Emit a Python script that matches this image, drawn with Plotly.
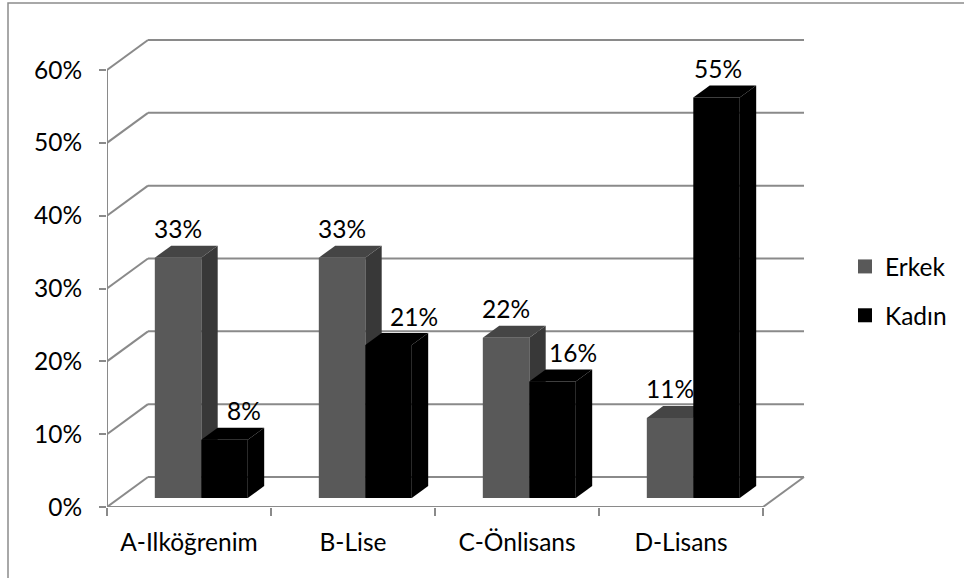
import plotly.graph_objects as go

# ---- data -------------------------------------------------------------
categories = ["A-Ilköğrenim", "B-Lise", "C-Önlisans", "D-Lisans"]
erkek = [33, 33, 22, 11]
kadin = [8, 21, 16, 55]
y_ticks = [0, 10, 20, 30, 40, 50, 60]
y_tick_labels = [f"{t}%" for t in y_ticks]
series_names = ["Erkek", "Kadın"]

# ---- styling / geometry ----------------------------------------------
W, H = 964, 578
FONT = "Lato"
FSIZE = 24.5
GRID = "#8a8a8a"
ERKEK_FRONT, ERKEK_TOP, ERKEK_SIDE = "#595959", "#454545", "#383838"
KADIN_FRONT, KADIN_TOP, KADIN_SIDE = "#000000", "#000000", "#000000"

AX_LEFT, AX_BOTTOM = 107, 507          # front plane origin (px)
DOM_RIGHT, DOM_TOP = 812, 34           # plotting area extent (px)
CAT_PX = 164                           # px per category
PCT_PX = 437 / 60                      # px per percent
WALL_DX, WALL_DY = 41, 30              # depth of the floor / side wall (px)
BAR_Z0, BAR_DZ = 0.3, 0.4              # bar position / thickness in depth
BARGAP = 0.433
BW = (1 - BARGAP) / 2                  # width of one column (category units)

# Kadın labels are nudged right when the neighbouring column is taller
KADIN_LABEL_NUDGE = [19, 25, 20, 1]
LABEL_LIFT = 29

x_range = [-0.5, -0.5 + (DOM_RIGHT - AX_LEFT) / CAT_PX]
y_range = [0, (AX_BOTTOM - DOM_TOP) / PCT_PX]

# offset of the column plane from the front plane, in axis units
bx = BAR_Z0 * WALL_DX / CAT_PX
by = BAR_Z0 * WALL_DY / PCT_PX
# column depth, in axis units
ddx = BAR_DZ * WALL_DX / CAT_PX
ddy = BAR_DZ * WALL_DY / PCT_PX
# wall depth, in axis units
wdx = WALL_DX / CAT_PX
wdy = WALL_DY / PCT_PX

fig = go.Figure()

# column front faces
for name, vals, col in [(series_names[0], erkek, ERKEK_FRONT),
                        (series_names[1], kadin, KADIN_FRONT)]:
    fig.add_trace(go.Bar(
        x=categories, y=vals, name=name, marker=dict(color=col, line=dict(width=0)),
        xaxis="x2", yaxis="y2", showlegend=False, hoverinfo="skip",
    ))

# legend entries
for name, col, grp in [(series_names[0], ERKEK_FRONT, "e"),
                       (series_names[1], KADIN_FRONT, "k")]:
    fig.add_trace(go.Scatter(
        x=[None], y=[None], mode="markers", name=name, legendgroup=grp,
        marker=dict(symbol="square", size=14, color=col),
        xaxis="x2", yaxis="y2",
    ))

shapes = []
wall_line = dict(color=GRID, width=2)

# side wall diagonals and back-wall gridlines
lx0 = -0.5
for t in y_ticks:
    shapes.append(dict(type="line", xref="x", yref="y", layer="below",
                       x0=lx0, y0=t, x1=lx0 + wdx, y1=t + wdy, line=wall_line))
    shapes.append(dict(type="line", xref="x", yref="y", layer="below",
                       x0=lx0 + wdx, y0=t + wdy, x1=len(categories) - 0.5 + wdx,
                       y1=t + wdy, line=wall_line))
# floor front edge, right floor edge, vertical axis line
rx = len(categories) - 0.5
shapes.append(dict(type="line", xref="x", yref="y", layer="below",
                   x0=lx0, y0=0, x1=rx, y1=0, line=wall_line))
shapes.append(dict(type="line", xref="x", yref="y", layer="below",
                   x0=rx, y0=0, x1=rx + wdx, y1=wdy, line=wall_line))
shapes.append(dict(type="line", xref="x", yref="y", layer="below",
                   x0=lx0, y0=0, x1=lx0, y1=y_ticks[-1], line=wall_line))


def column_faces(i, v, left, top_col, side_col, layer):
    x0 = i + left
    x1 = x0 + BW
    top = (f"M {x0},{v} L {x1},{v} L {x1 + ddx},{v + ddy} "
           f"L {x0 + ddx},{v + ddy} Z")
    side = (f"M {x1},0 L {x1},{v} L {x1 + ddx},{v + ddy} "
            f"L {x1 + ddx},{ddy} Z")
    return [
        dict(type="path", xref="x2", yref="y2", layer=layer, path=side,
             fillcolor=side_col, line=dict(width=0)),
        dict(type="path", xref="x2", yref="y2", layer=layer, path=top,
             fillcolor=top_col, line=dict(width=0)),
    ]


for i, v in enumerate(erkek):
    shapes += column_faces(i, v, -BW, ERKEK_TOP, ERKEK_SIDE, "below")
for i, v in enumerate(kadin):
    shapes += column_faces(i, v, 0, KADIN_TOP, KADIN_SIDE, "above")

# chart border
shapes.append(dict(type="rect", xref="paper", yref="paper",
                   x0=8 / W, y0=-0.1, x1=1.1, y1=1 - 3 / H,
                   line=dict(color="#8c8c8c", width=1.5), layer="below"))

# value labels
annotations = []
for i, (c, v) in enumerate(zip(categories, erkek)):
    annotations.append(dict(
        x=c, y=v, xref="x2", yref="y2", text=f"{v}%", showarrow=False,
        xshift=-BW * CAT_PX / 2, yshift=LABEL_LIFT,
        font=dict(family=FONT, size=FSIZE, color="black")))
for i, (c, v) in enumerate(zip(categories, kadin)):
    annotations.append(dict(
        x=c, y=v, xref="x2", yref="y2", text=f"{v}%", showarrow=False,
        xshift=BW * CAT_PX / 2 + KADIN_LABEL_NUDGE[i], yshift=LABEL_LIFT,
        font=dict(family=FONT, size=FSIZE, color="black")))

x_dom = [AX_LEFT / W, DOM_RIGHT / W]
y_dom = [1 - AX_BOTTOM / H, 1 - DOM_TOP / H]

fig.update_layout(
    width=W, height=H, autosize=False,
    margin=dict(l=0, r=0, t=0, b=0, pad=0, autoexpand=False),
    paper_bgcolor="white", plot_bgcolor="rgba(0,0,0,0)",
    font=dict(family=FONT, size=FSIZE, color="black"),
    barmode="group", bargap=BARGAP, bargroupgap=0,
    shapes=shapes, annotations=annotations,
    xaxis=dict(
        type="category", categoryorder="array", categoryarray=categories,
        domain=x_dom, range=x_range, tickson="boundaries",
        ticks="outside", ticklen=8, tickwidth=2, tickcolor=GRID,
        showgrid=False, showline=False, zeroline=False, automargin=False,
        ticklabelstandoff=18, anchor="y", fixedrange=True,
    ),
    yaxis=dict(
        domain=y_dom, range=y_range, tickvals=y_ticks, ticktext=y_tick_labels,
        ticks="outside", ticklen=7, tickwidth=2, tickcolor=GRID,
        showgrid=False, showline=False, zeroline=False, automargin=False,
        ticklabelstandoff=12, anchor="x", fixedrange=True,
    ),
    xaxis2=dict(
        type="category", categoryorder="array", categoryarray=categories,
        overlaying="x", anchor="y2",
        range=[x_range[0] - bx, x_range[1] - bx],
        showticklabels=False, ticks="", showgrid=False, showline=False,
        zeroline=False, automargin=False, fixedrange=True,
    ),
    yaxis2=dict(
        overlaying="y", anchor="x2",
        range=[y_range[0] - by, y_range[1] - by],
        showticklabels=False, ticks="", showgrid=False, showline=False,
        zeroline=False, automargin=False, fixedrange=True,
    ),
    legend=dict(
        x=845 / W, y=1 - 244 / H, xanchor="left", yanchor="top",
        font=dict(family=FONT, size=FSIZE), tracegroupgap=14,
        bgcolor="rgba(0,0,0,0)",
    ),
    hovermode=False,
)

fig.write_html("out.html")
